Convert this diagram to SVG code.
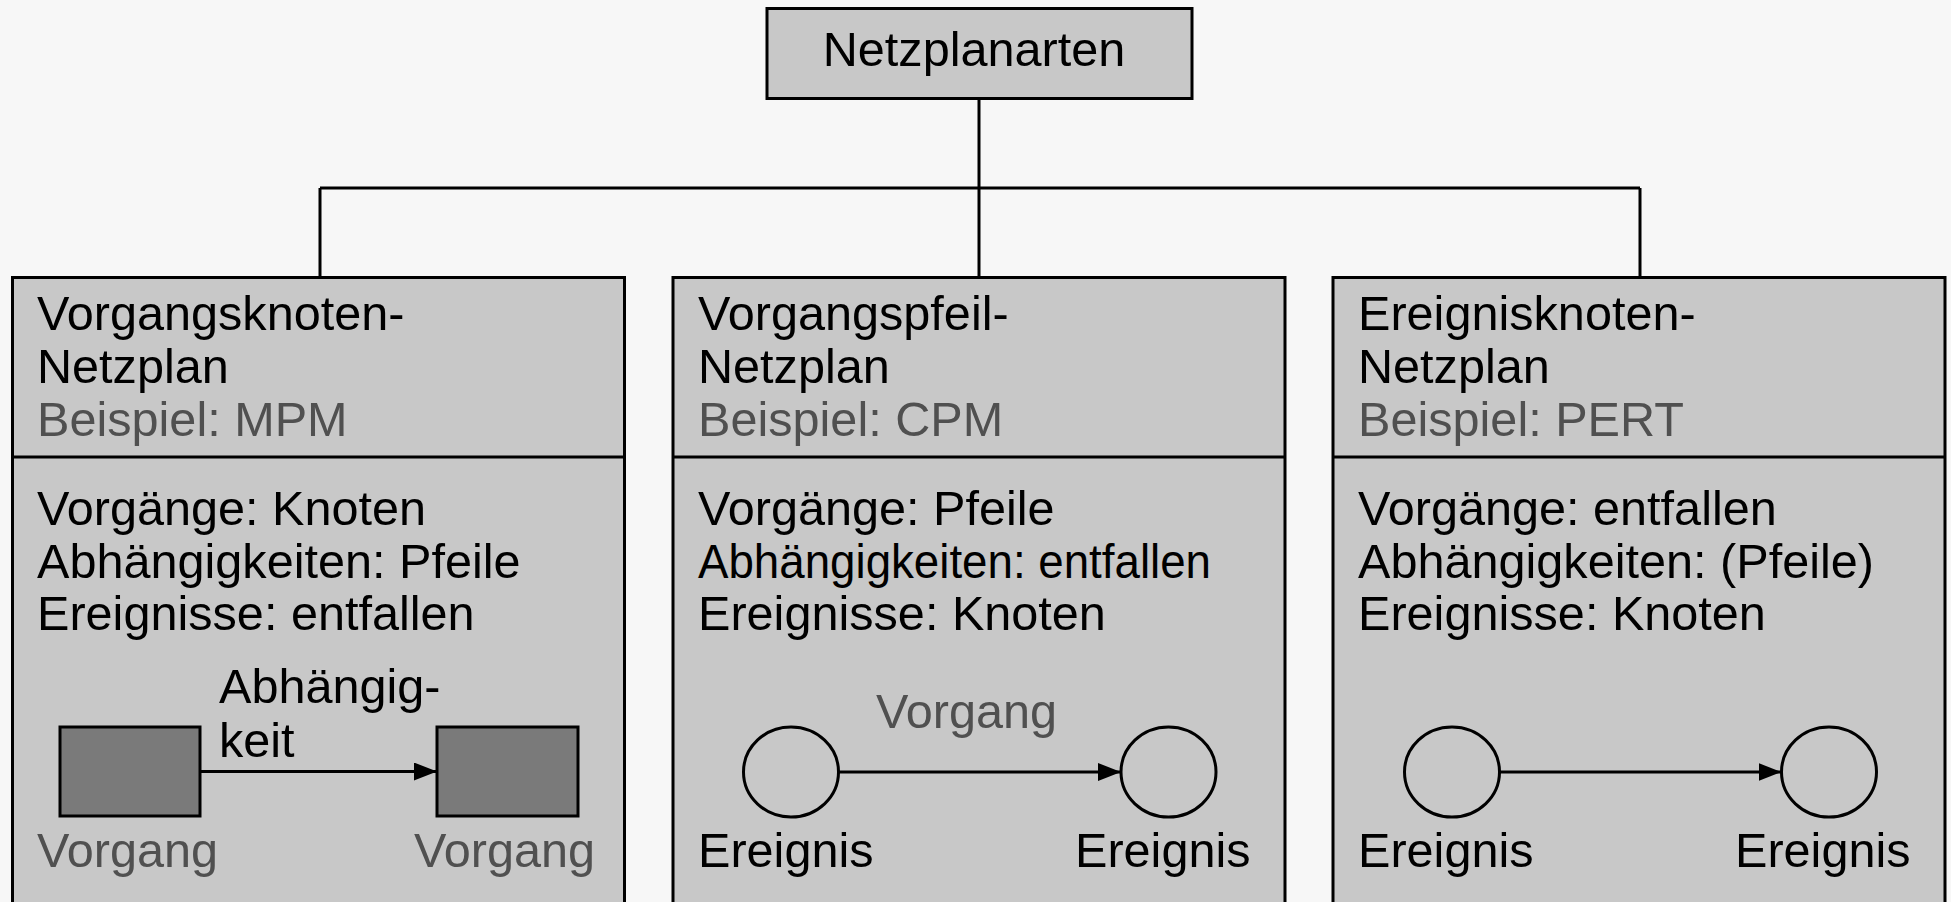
<svg xmlns="http://www.w3.org/2000/svg" width="1951" height="902" viewBox="0 0 1951 902">
<defs>
<style>
.bg{fill:#f7f7f7}
.box{fill:#c8c8c8;stroke:#000;stroke-width:3}
.ln{fill:none;stroke:#000;stroke-width:3}
.t{font-family:"Liberation Sans",Arial,sans-serif;font-size:48.6px;fill:#000}
.g{fill:#505050}
.act{fill:#7a7a7a;stroke:#000;stroke-width:3}
.ev{fill:#c8c8c8;stroke:#000;stroke-width:3}
.arr{fill:none;stroke:#000;stroke-width:3;marker-end:url(#ah)}
</style>
<marker id="ah" markerUnits="userSpaceOnUse" markerWidth="24" markerHeight="20" refX="23" refY="9" orient="auto">
<path d="M0,0 L23,9 L0,18 Z" fill="#000"/>
</marker>
</defs>
<rect class="bg" x="0" y="0" width="1951" height="902"/>
<g id="connectors">
<path class="ln" d="M979,99 V277"/>
<path class="ln" d="M320,188 H1640"/>
<path class="ln" d="M320,188 V277"/>
<path class="ln" d="M1640,188 V277"/>
</g>
<g id="root">
<rect class="box" x="767" y="8.5" width="425" height="90"/>
<text class="t" x="974" y="66" text-anchor="middle">Netzplanarten</text>
</g>
<g id="vorgangsknoten">
<rect class="box" x="12.5" y="277.5" width="612" height="640"/>
<path class="ln" d="M12.5,457 H624.5"/>
<text class="t" x="37" y="330">Vorgangsknoten-</text>
<text class="t" x="37" y="383">Netzplan</text>
<text class="t g" x="37" y="436">Beispiel: MPM</text>
<text class="t" x="37" y="525">Vorgänge: Knoten</text>
<text class="t" x="37" y="578">Abhängigkeiten: Pfeile</text>
<text class="t" x="37" y="630">Ereignisse: entfallen</text>
<rect class="act" x="60" y="727" width="140" height="89"/>
<rect class="act" x="437" y="727" width="141" height="89"/>
<path class="arr" d="M200,771.5 H437"/>
<text class="t" x="219" y="703">Abhängig-</text>
<text class="t" x="219" y="757">keit</text>
<text class="t g" x="37" y="867">Vorgang</text>
<text class="t g" x="414" y="867">Vorgang</text>
</g>
<g id="vorgangspfeil">
<rect class="box" x="673" y="277.5" width="612" height="640"/>
<path class="ln" d="M673,457 H1285"/>
<text class="t" x="698" y="330">Vorgangspfeil-</text>
<text class="t" x="698" y="383">Netzplan</text>
<text class="t g" x="698" y="436">Beispiel: CPM</text>
<text class="t" x="698" y="525">Vorgänge: Pfeile</text>
<text class="t" x="698" y="578" textLength="513" lengthAdjust="spacingAndGlyphs">Abhängigkeiten: entfallen</text>
<text class="t" x="698" y="630">Ereignisse: Knoten</text>
<ellipse class="ev" cx="791" cy="772" rx="47.5" ry="45"/>
<ellipse class="ev" cx="1168.5" cy="772" rx="47.5" ry="45"/>
<path class="arr" d="M838.5,772 H1121"/>
<text class="t g" x="876" y="728">Vorgang</text>
<text class="t" x="698" y="867">Ereignis</text>
<text class="t" x="1075" y="867">Ereignis</text>
</g>
<g id="ereignisknoten">
<rect class="box" x="1333" y="277.5" width="612" height="640"/>
<path class="ln" d="M1333,457 H1945"/>
<text class="t" x="1358" y="330">Ereignisknoten-</text>
<text class="t" x="1358" y="383">Netzplan</text>
<text class="t g" x="1358" y="436">Beispiel: PERT</text>
<text class="t" x="1358" y="525">Vorgänge: entfallen</text>
<text class="t" x="1358" y="578">Abhängigkeiten: (Pfeile)</text>
<text class="t" x="1358" y="630">Ereignisse: Knoten</text>
<ellipse class="ev" cx="1452" cy="772" rx="47.5" ry="45"/>
<ellipse class="ev" cx="1829" cy="772" rx="47.5" ry="45"/>
<path class="arr" d="M1499.5,772 H1781.5"/>
<text class="t" x="1358" y="867">Ereignis</text>
<text class="t" x="1735" y="867">Ereignis</text>
</g>
</svg>
